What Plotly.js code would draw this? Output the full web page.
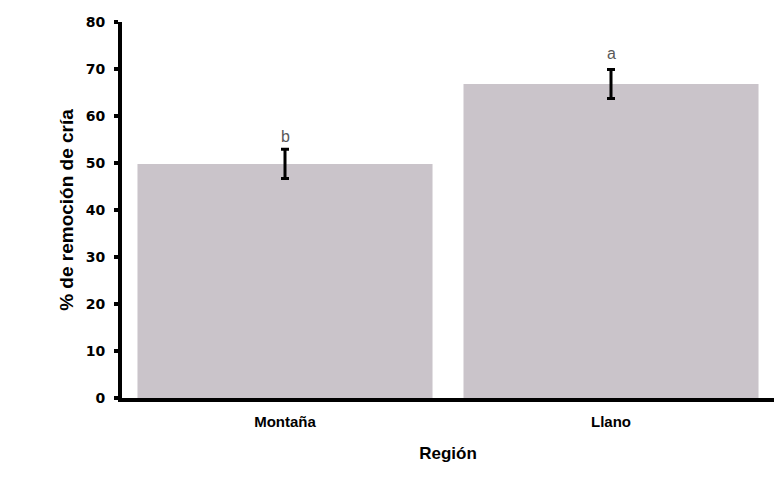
<!DOCTYPE html>
<html>
<head>
<meta charset="utf-8">
<script src="https://cdn.plot.ly/plotly-3.0.1.min.js"></script>
<style>
  html, body { margin: 0; padding: 0; background: #fff; }
  #chart { width: 776px; height: 503px; }
</style>
</head>
<body>
<div id="chart"></div>
<script>
// datos
const regiones = ["Montaña", "Llano"];
const remocion = [49.8, 66.8];
const errores = [3.1, 3.1];
const letras = ["b", "a"];
const letraY = [55.6, 73.2];

const barras = {
    type: "bar",
    x: regiones,
    y: remocion,
    marker: {color: "#cac4ca", line: {width: 0}},
    error_y: {type: "data", array: errores, visible: true, color: "#000", thickness: 3, width: 4},
    hoverinfo: "none"
};

const etiquetas = regiones.map(function (r, i) {
    return {
        x: r, y: letraY[i], text: letras[i], showarrow: false,
        font: {family: "Liberation Sans, Arial, sans-serif", size: 16, color: "#595959"}
    };
});

const layout = {
    width: 776,
    height: 503,
    margin: {l: 122, r: 2, t: 22, b: 105},
    paper_bgcolor: "#fff",
    plot_bgcolor: "#fff",
    showlegend: false,
    bargap: 0.095,
    font: {family: "Liberation Sans, Arial, sans-serif", color: "#000"},
    xaxis: {
        showline: true, linecolor: "#000", linewidth: 4,
        ticks: "", showgrid: false, zeroline: false,
        ticklabelstandoff: 7,
        tickfont: {size: 15, weight: "bold"},
        title: {text: "<b>Región</b>", font: {size: 17}, standoff: 19}
    },
    yaxis: {
        range: [0, 80], dtick: 10,
        showline: true, linecolor: "#000", linewidth: 4,
        ticks: "outside", ticklen: 4, tickwidth: 4, tickcolor: "#000",
        showgrid: false, zeroline: false,
        ticklabelstandoff: 6,
        tickfont: {family: "DejaVu Sans, Verdana, sans-serif", size: 14, weight: "bold"},
        title: {text: "<b>% de remoción de cría</b>", font: {size: 19}, standoff: 8}
    },
    annotations: etiquetas
};

Plotly.newPlot("chart", [barras], layout, {staticPlot: true});
</script>
</body>
</html>
